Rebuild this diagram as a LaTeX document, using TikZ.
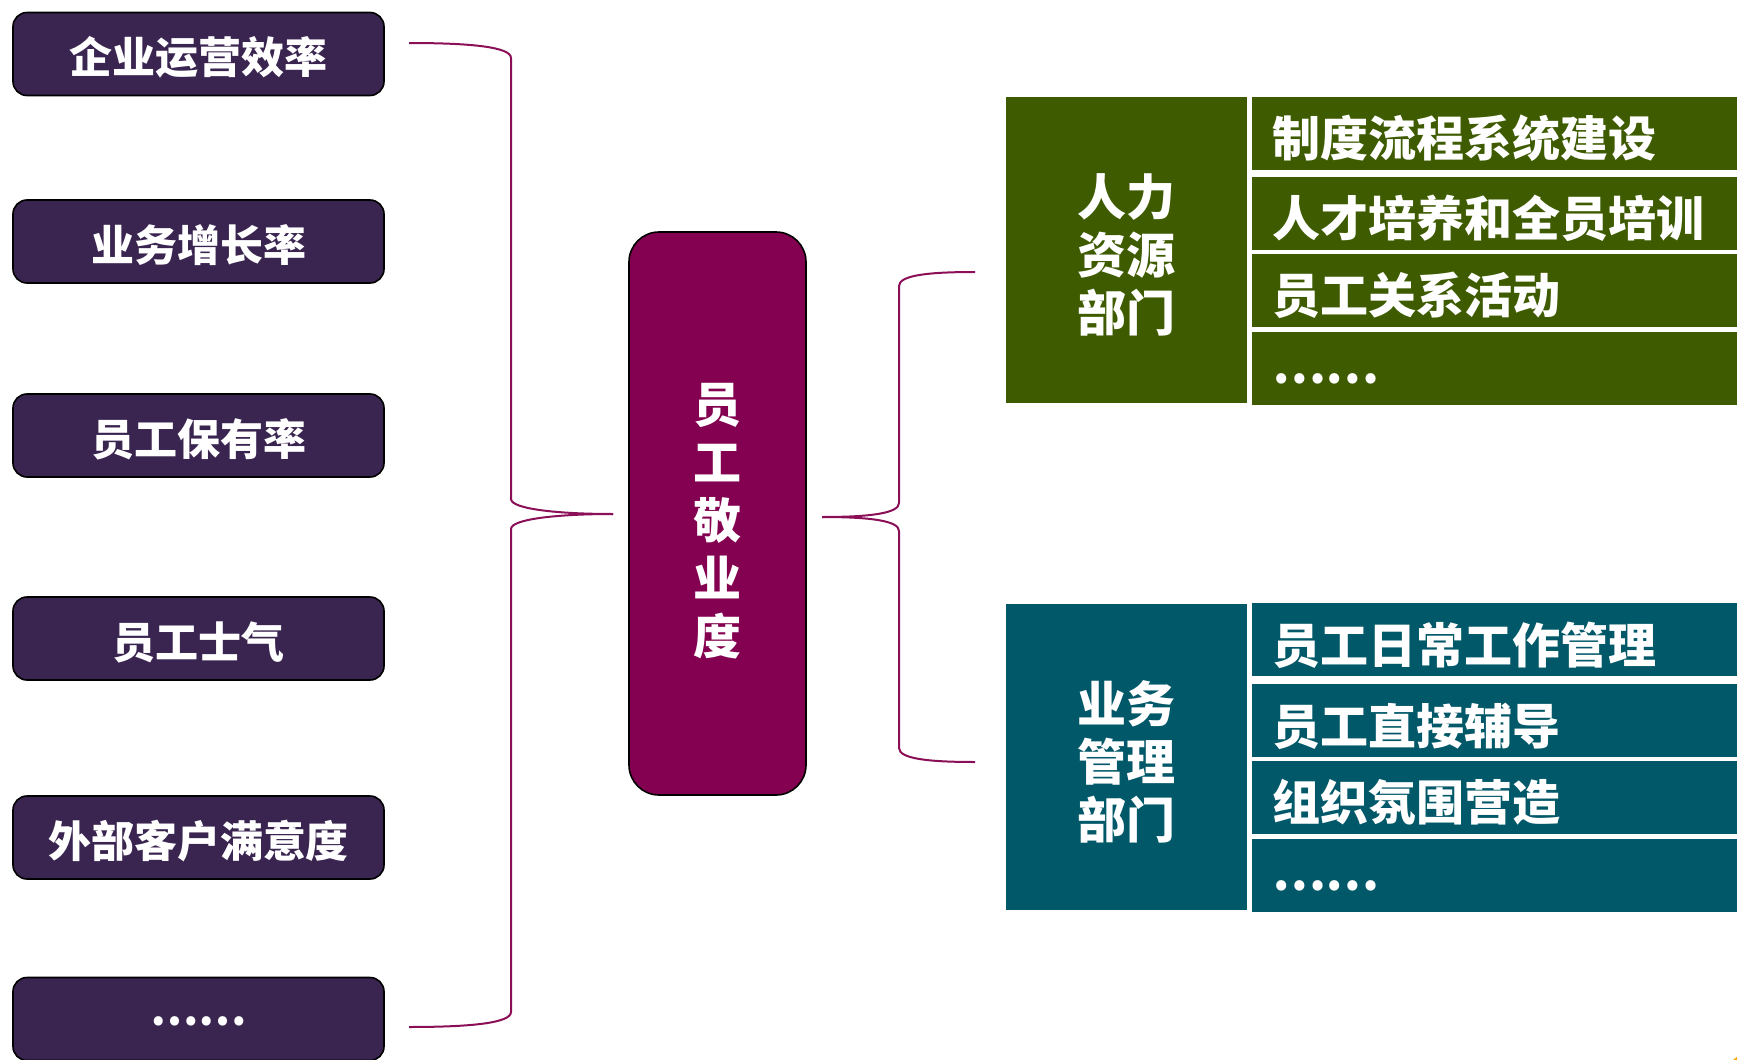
\documentclass[tikz,border=0pt]{standalone}
\usepackage{fontspec}
\setmainfont{Noto Sans CJK SC}

\definecolor{kpurple}{HTML}{3A2551}
\definecolor{coremag}{HTML}{840050}
\definecolor{hrgreen}{HTML}{3E5B00}
\definecolor{bizteal}{HTML}{015868}
\definecolor{braceline}{HTML}{8A0F56}

% fixed height (#1) and depth (#2) of a line, so the text sits a little low in its box
\newcommand\linestrut[2]{\rule[-#2]{0pt}{\dimexpr#1+#2\relax}}

\tikzset{
    kbox/.style={draw=black,line width=0.8pt,fill=kpurple,rounded corners=7pt,
        minimum width=185.5pt,minimum height=41.5pt,inner ysep=2pt,text=white,
        font=\bfseries\fontsize{21.5pt}{26pt}\selectfont,
        execute at begin node={\linestrut{22.8pt}{3pt}}},
    corebox/.style={draw=black,line width=0.8pt,fill=coremag,rounded corners=15pt,
        minimum width=88.5pt,minimum height=281.5pt,text=white,align=center,
        font=\bfseries\fontsize{24pt}{29pt}\selectfont},
    dept/.style={minimum width=120.5pt,minimum height=153pt,text=white,align=center,
        font=\bfseries\fontsize{24.5pt}{29pt}\selectfont},
    row/.style={minimum height=36.5pt,inner xsep=10pt,inner ysep=2pt,text width=226.5pt,
        align=left,text=white,font=\bfseries\fontsize{24pt}{29pt}\selectfont,
        execute at begin node={\linestrut{26.7pt}{3pt}}},
    brace/.style={draw=braceline,line width=1pt}
}

\begin{document}
\begin{tikzpicture}[x=0.5pt,y=-0.5pt]
    \useasboundingbox (0,0) rectangle (1737,1060);
    % left column
    \foreach \t/\y [count=\i] in {企业运营效率/54,业务增长率/241.5,员工保有率/435.5,
        员工士气/638.5,外部客户满意度/837.5,\raisebox{6.5pt}{……}/1019}
        \node[kbox] (k\i) at (198.5,\y) {\t};
    % center
    \node[corebox] (core) at (717.5,513.5)
        {\linestrut{27.7pt}{0pt}员\\工\\敬\\业\\度\linestrut{0pt}{3pt}};
    % departments
    \node[dept,fill=hrgreen] (hr) at (1126.5,250)
        {\linestrut{26.6pt}{0pt}人力\\资源\\部门\linestrut{0pt}{3pt}};
    \node[dept,fill=bizteal] (biz) at (1126.5,756.5)
        {\linestrut{26.6pt}{0pt}业务\\管理\\部门\linestrut{0pt}{3pt}};
    \foreach \t/\y [count=\i] in {制度流程系统建设/133,人才培养和全员培训/213,
        员工关系活动/290,\raisebox{4.3pt}{……}/368}
        \node[row,fill=hrgreen] (hr\i) at (1498.5,\y) {\t};
    \foreach \t/\y [count=\i] in {员工日常工作管理/639.5,员工直接辅导/720.5,
        组织氛围营造/797,\raisebox{4.3pt}{……}/875}
        \node[row,fill=bizteal] (biz\i) at (1498.5,\y) {\t};
    % braces
    \coordinate (lt) at (409,43);
    \coordinate (lb) at (409,1027);
    \coordinate (lm) at (613,514);
    \coordinate (rt) at (975,272);
    \coordinate (rb) at (975,762);
    \coordinate (rm) at (822,517);
    \draw[brace] (lt) .. controls +(62,0) and +(0,-11) .. (511,58) -- (511,499)
        .. controls +(0,10) and +(-55,0) .. (lm);
    \draw[brace] (lm) .. controls +(-55,0) and +(0,-10) .. (511,529) -- (511,1012)
        .. controls +(0,11) and +(62,0) .. (lb);
    \draw[brace] (rm) .. controls +(50,0) and +(0,10) .. (899,503) -- (899,286)
        .. controls +(0,-11) and +(-45,0) .. (rt);
    \draw[brace] (rm) .. controls +(50,0) and +(0,-10) .. (899,531) -- (899,748)
        .. controls +(0,11) and +(-45,0) .. (rb);
    \fill[orange!70!yellow] (1752,1078) circle (13pt);
\end{tikzpicture}
\end{document}
